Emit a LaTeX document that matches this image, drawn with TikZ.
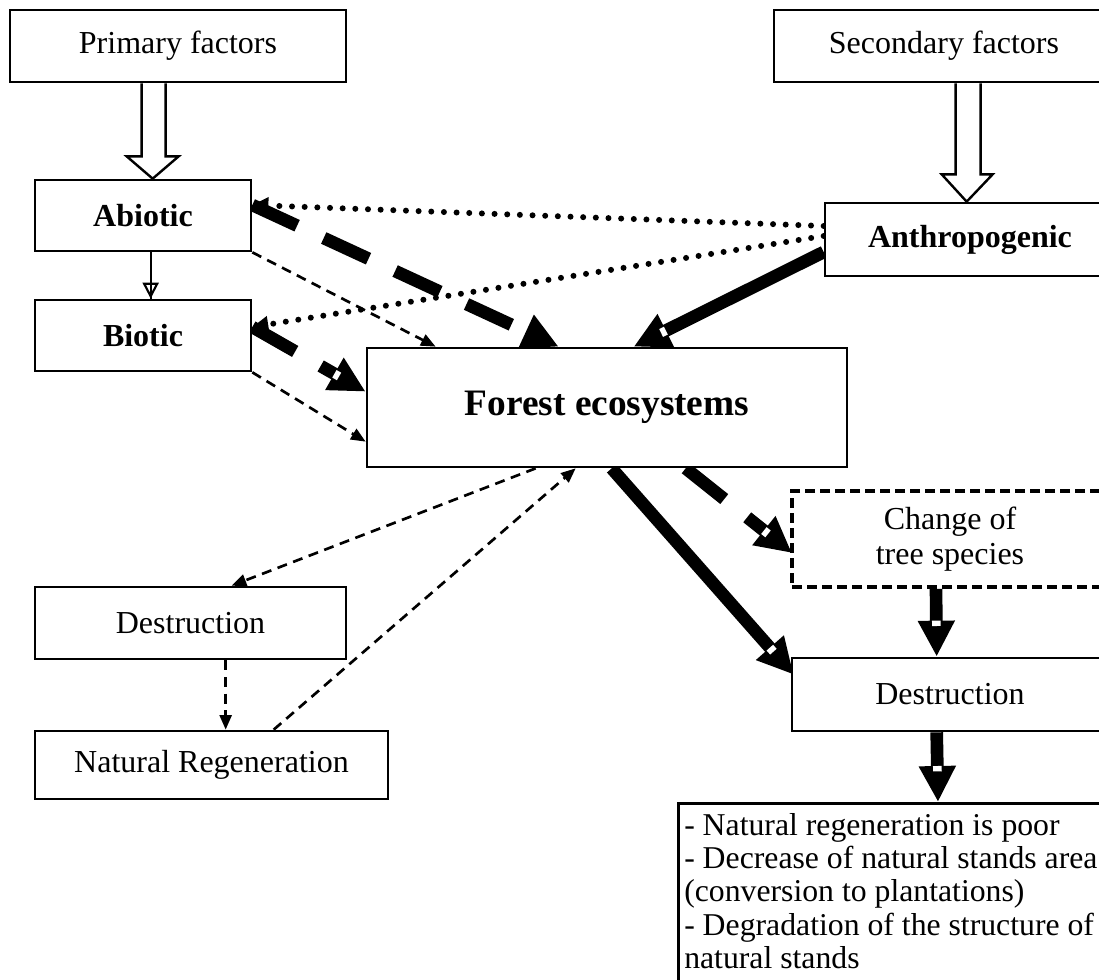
\documentclass[tikz,border=0pt]{standalone}
\usepackage{fontspec}
\setmainfont{Liberation Serif}
\usetikzlibrary{arrows.meta,calc,backgrounds}
\begin{document}
\begin{tikzpicture}[x=0.75pt,y=-0.75pt,
  box/.style={draw, fill=white, line width=2pt, inner sep=0pt, align=center, font=\fontsize{24}{26}\selectfont},
  bbox/.style={box, font=\fontsize{24}{26}\selectfont\bfseries},
  sz/.style 2 args={minimum width={#1*0.75pt}, minimum height={#2*0.75pt}},
  hollow/.style={line width=1.8pt, line join=miter, fill=white},
  heavydash/.style={line width=9.5pt, dash pattern=on 37pt off 22pt, -{Triangle[length=27pt,width=26pt]}},
  heavy/.style={line width=9.5pt, -{Triangle[length=27pt,width=26pt]}},
  dotarrow/.style={line width=4.5pt, line cap=round, dash pattern=on 0pt off 9.5pt, -{Triangle[length=12pt,width=12pt]}},
  thindash/.style={line width=2pt, dash pattern=on 7.5pt off 5pt, -{Triangle[length=11pt,width=9pt]}},
  thinarrow/.style={line width=1.6pt},
  wmark/.style={white, line width=6.5pt},
]
\useasboundingbox (0,0) rectangle (1099,980);
\clip (0,0) rectangle (1099,980);

% boxes
\node[box, sz={336}{72}] (prim) at (178,46) {Primary factors};
\node[box, sz={340}{72}] (sec) at (944,46) {Secondary factors};
\node[bbox, sz={216}{71}] (abio) at (143,215.5) {Abiotic};
\node[bbox, sz={216}{71}] (biot) at (143,335.5) {Biotic};
\node[bbox, sz={290}{73}] (anth) at (970,239.5) {Anthropogenic};
\node[box, sz={480}{119}, font=\fontsize{28}{30}\selectfont\bfseries] (forest) at (607,407.5) {Forest ecosystems};
\node[box, sz={316}{96}, line width=3pt, dash pattern=on 7.5pt off 3.75pt] (change) at (950,539) {Change of\\tree species};
\node[box, sz={316}{73}] (destR) at (950,694.5) {Destruction};
\node[box, sz={311}{72}] (destL) at (190.5,623) {Destruction};
\node[box, sz={353}{68}] (natreg) at (211.5,765) {Natural Regeneration};
\node[box, sz={440}{220}, anchor=north west] (res) at (677,802) {};
\node[anchor=north west, inner sep=0pt, align=left, font=\fontsize{23.8}{25}\selectfont] (restext) at (684,813)
  {- Natural regeneration is poor\\- Decrease of natural stands area\\(conversion to plantations)\\- Degradation of the structure of\\natural stands};

\begin{pgfonlayer}{background}
% hollow arrows
\draw[hollow] ($(prim.south west)+(133,0)$) -- ($(prim.south west)+(133,73)$) -- ($(prim.south west)+(118,73)$)
  -- ($(abio.north west)+(119,0)$) -- ($(prim.south west)+(170,73)$) -- ($(prim.south west)+(157,73)$)
  -- ($(prim.south west)+(157,0)$);
\draw[hollow] ($(sec.south west)+(183,0)$) -- ($(sec.south west)+(183,91)$) -- ($(sec.south west)+(169,91)$)
  -- ($(anth.north west)+(143,0)$) -- ($(sec.south west)+(220,91)$) -- ($(sec.south west)+(208,91)$)
  -- ($(sec.south west)+(208,0)$);

% abiotic -> biotic
\draw[thinarrow] ($(abio.south west)+(117,0)$) -- ($(biot.north west)+(117,0)$);
\draw[thinarrow, -{Triangle[open, length=12pt, width=12pt]}] ($(abio.south west)+(117,0)$) -- ($(biot.north west)+(117,0)$);

% coordinates
\coordinate (abE) at ($(abio.east)+(0,-10.5)$);
\coordinate (biE) at ($(biot.east)+(0,-8.5)$);
\coordinate (fAb) at ($(forest.north west)+(193,0)$);
\coordinate (fBi) at ($(forest.north west)+(0,45)$);
\coordinate (anS) at ($(anth.west)+(0,12.5)$);
\coordinate (fAn) at ($(forest.north west)+(268,0)$);
\coordinate (fD) at ($(forest.south west)+(246,0)$);
\coordinate (dT) at ($(destR.north west)+(3,18)$);
\coordinate (fC) at ($(forest.south west)+(320,0)$);
\coordinate (cT) at ($(change.north west)+(2,64)$);
\coordinate (cS) at ($(change.south west)+(146,0)$);
\coordinate (cE) at ($(destR.north west)+(146,0)$);
\coordinate (dS) at ($(destR.south west)+(146,0)$);
\coordinate (rT) at ($(res.north west)+(261,0)$);

% heavy dashed
\draw[heavydash] (abE) -- (fAb);
\draw[heavydash] (biE) -- (fBi);
\draw[heavydash] (fC) -- (cT);
% heavy solid
\draw[heavy] (anS) -- (fAn);
\draw[heavy] (fD) -- (dT);
\draw[heavy] (cS) -- (cE);
\draw[heavy] (dS) -- (rT);
% white marks
\draw[wmark] ($(fBi)!27pt!(biE)$) -- ($(fBi)!23pt!(biE)$);
\draw[wmark] ($(fAn)!27pt!(anS)$) -- ($(fAn)!23pt!(anS)$);
\draw[wmark] ($(dT)!27pt!(fD)$) -- ($(dT)!23pt!(fD)$);
\draw[wmark] ($(cT)!27pt!(fC)$) -- ($(cT)!23pt!(fC)$);
\draw[wmark] ($(cE)!27pt!(cS)$) -- ($(cE)!23pt!(cS)$);
\draw[wmark] ($(rT)!27pt!(dS)$) -- ($(rT)!23pt!(dS)$);

% dotted
\draw[dotarrow] ($(anth.west)+(0,-13.5)$) -- (abE);
\draw[dotarrow] ($(anth.west)+(0,-3.5)$) -- (biE);

% thin dashed
\draw[thindash] (abio.south east) -- ($(forest.north west)+(70,0)$);
\draw[thindash] (biot.south east) -- ($(forest.north west)+(0,95)$);
\draw[thindash] ($(forest.south west)+(170,0)$) -- ($(destL.north west)+(198,0)$);
\draw[thindash] ($(destL.south west)+(192,0)$) -- ($(natreg.north west)+(192,0)$);
\draw[thindash] ($(natreg.north west)+(240,0)$) -- ($(forest.south west)+(210,0)$);
\end{pgfonlayer}
\end{tikzpicture}
\end{document}
